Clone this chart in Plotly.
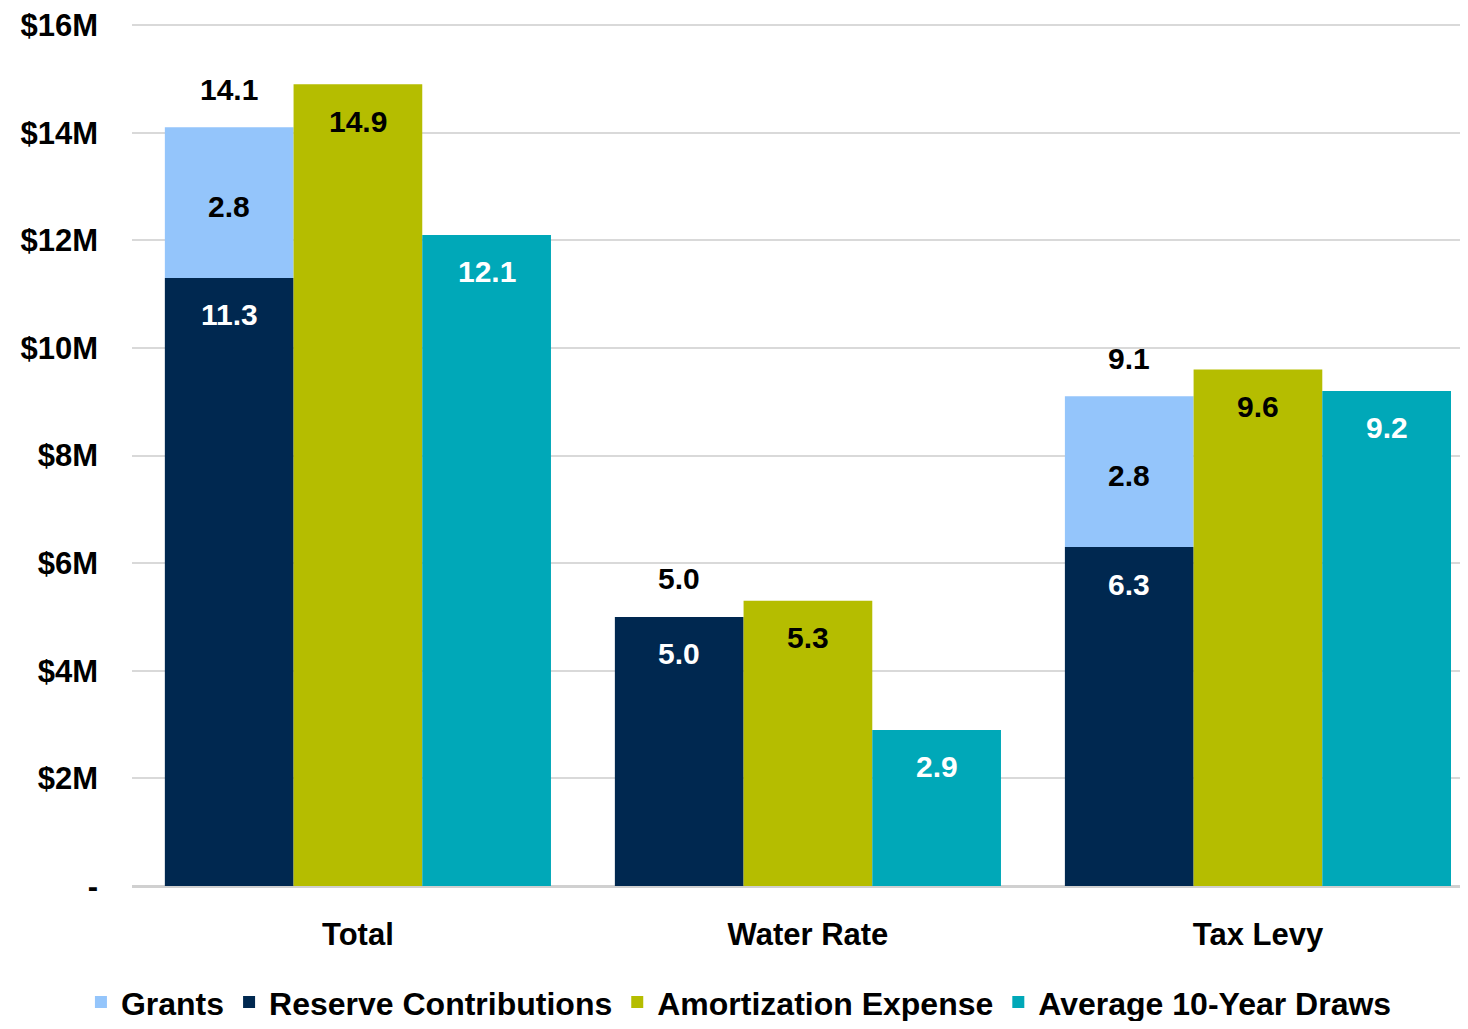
import plotly.graph_objects as go

CATEGORIES = ["Total", "Water Rate", "Tax Levy"]
RESERVE = [11.3, 5.0, 6.3]
GRANTS = [2.8, 0.0, 2.8]
AMORTIZATION = [14.9, 5.3, 9.6]
DRAWS = [12.1, 2.9, 9.2]
Y_TICKS = [0, 2, 4, 6, 8, 10, 12, 14, 16]
Y_TICK_TEXT = ["-", "$2M", "$4M", "$6M", "$8M", "$10M", "$12M", "$14M", "$16M"]

GRANTS_COLOR = "#94C5FB"
RESERVE_COLOR = "#002850"
AMORT_COLOR = "#B5BD00"
DRAWS_COLOR = "#00A8B8"
FONT = "Liberation Sans Narrow, Arial Narrow, Liberation Sans, Arial, sans-serif"

BARGAP = 0.142
BAR_W = (1 - BARGAP) / 3
xs = list(range(len(CATEGORIES)))

fig = go.Figure()
fig.add_trace(go.Bar(x=xs, y=GRANTS, base=RESERVE, name="Grants", marker_color=GRANTS_COLOR,
                     offsetgroup="a", marker_line_width=0))
fig.add_trace(go.Bar(x=xs, y=RESERVE, name="Reserve Contributions", marker_color=RESERVE_COLOR,
                     offsetgroup="a", marker_line_width=0))
fig.add_trace(go.Bar(x=xs, y=AMORTIZATION, name="Amortization Expense", marker_color=AMORT_COLOR,
                     offsetgroup="b", marker_line_width=0))
fig.add_trace(go.Bar(x=xs, y=DRAWS, name="Average 10-Year Draws", marker_color=DRAWS_COLOR,
                     offsetgroup="c", marker_line_width=0))

label_font = dict(family=FONT, size=30, color="#000000", weight="bold")
white_font = dict(family=FONT, size=30, color="#FFFFFF", weight="bold")
for i in xs:
    total = RESERVE[i] + GRANTS[i]
    # label for the stacked total, above the stack
    fig.add_annotation(x=i - BAR_W, y=total, text=f"{total:.1f}", showarrow=False,
                       yshift=38, font=label_font)
    fig.add_annotation(x=i - BAR_W, y=RESERVE[i], text=f"{RESERVE[i]:.1f}", showarrow=False,
                       yshift=-37, font=white_font)
    if GRANTS[i] > 0:
        fig.add_annotation(x=i - BAR_W, y=RESERVE[i] + GRANTS[i] / 2, text=f"{GRANTS[i]:.1f}",
                           showarrow=False, yshift=-4, font=label_font)
    fig.add_annotation(x=i, y=AMORTIZATION[i], text=f"{AMORTIZATION[i]:.1f}", showarrow=False,
                       yshift=-37, font=label_font)
    fig.add_annotation(x=i + BAR_W, y=DRAWS[i], text=f"{DRAWS[i]:.1f}", showarrow=False,
                       yshift=-37, font=white_font)

fig.update_layout(
    width=1452,
    height=1013,
    barmode="group",
    bargap=BARGAP,
    bargroupgap=0,
    paper_bgcolor="white",
    plot_bgcolor="white",
    margin=dict(l=124, r=0, t=16, b=135),
    font=dict(family=FONT, size=31, color="#000000", weight="bold"),
    showlegend=True,
    legend=dict(orientation="h", xref="container", yref="container", x=0.5034, y=0.0185,
                xanchor="center", yanchor="middle", traceorder="normal",
                font=dict(family=FONT, size=32, color="#000000", weight="bold")),
)
fig.update_xaxes(range=[-0.502, 2.449], tickvals=xs, ticktext=CATEGORIES, showgrid=False,
                 zeroline=False, showline=False, ticks="", ticklabelstandoff=27,
                 tickfont=dict(size=31, weight="bold"))
fig.update_yaxes(range=[0, 16.02], tickvals=Y_TICKS, ticktext=Y_TICK_TEXT, showgrid=True,
                 gridcolor="#D9D9D9", gridwidth=2, zeroline=True, zerolinecolor="#D0D0D0",
                 zerolinewidth=3, ticklabelstandoff=33, ticklabeloverflow="allow",
                 tickfont=dict(size=31, weight="bold"))

fig.write_html("out.html")
